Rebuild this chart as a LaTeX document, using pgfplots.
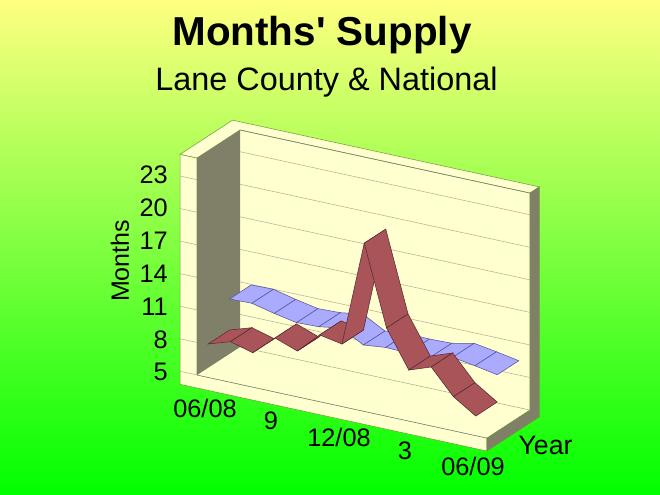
\documentclass[border=0pt]{standalone}
\usepackage{fontspec}
\setmainfont{Liberation Sans}
\newfontfamily\plainsans{Liberation Sans}
\usepackage{pgfplots}
\usepackage{pgfplotstable}
\pgfplotsset{compat=1.18}

\definecolor{bgtop}{RGB}{255,255,128}
\definecolor{bgbot}{RGB}{0,255,0}
\definecolor{wall}{RGB}{255,255,208}
\definecolor{shadewall}{RGB}{128,128,104}
\definecolor{edge}{RGB}{110,160,50}
\definecolor{gridc}{RGB}{178,178,150}
\definecolor{redrib}{RGB}{168,84,88}
\definecolor{redline}{RGB}{90,40,50}
\definecolor{bluerib}{RGB}{170,170,255}
\definecolor{blueline}{RGB}{85,85,150}

% month position, depth, months
\pgfplotstableread{
x d z
0.5 0 8.08
0.5 0.5 8.08
1.5 0 8.74
1.5 0.5 8.74
2.5 0 8.17
2.5 0.5 8.17
3.5 0 9.98
3.5 0.5 9.98
4.5 0 9.22
4.5 0.5 9.22
5.5 0 11.15
5.5 0.5 11.15
6.5 0 10.76
6.5 0.5 10.76
7.5 0 20.5
7.5 0.5 20.5
8.5 0 13.13
8.5 0.5 13.13
9.5 0 9.7
9.5 0.5 9.7
10.5 0 10.43
10.5 0.5 10.43
11.5 0 8.14
11.5 0.5 8.14
12.5 0 6.8
12.5 0.5 6.8
}\lane
\pgfplotstableread{
x d z
0.5 0.5 10.94
0.5 1 10.94
1.5 0.5 10.99
1.5 1 10.99
2.5 0.5 10.5
2.5 1 10.5
3.5 0.5 10.1
3.5 1 10.1
4.5 0.5 10.17
4.5 1 10.17
5.5 0.5 10.5
5.5 1 10.5
6.5 0.5 9.38
6.5 1 9.38
7.5 0.5 9.6
7.5 1 9.6
8.5 0.5 9.53
8.5 1 9.53
9.5 0.5 9.59
9.5 1 9.59
10.5 0.5 10.03
10.5 1 10.03
11.5 0.5 9.7
11.5 1 9.7
12.5 0.5 9.32
12.5 1 9.32
}\national

\newcommand{\fs}[1]{\fontsize{#1}{#1}\selectfont}

\begin{document}
\begin{tikzpicture}
\useasboundingbox (0,0) rectangle (495pt,370.5pt);
\begin{scope}[x=0.75pt,y=0.75pt]
\shade[top color=bgtop,bottom color=bgbot] (0,0) rectangle (660,494);
\end{scope}

\begin{axis}[
    at={(147.75pt,79.5pt)},
    anchor=origin,
    disabledatascaling,
    x={(16.725pt,-3.6375pt)},
    y={(32.25pt,21pt)},
    z={(0pt,8.1375pt)},
    xmin=-0.76, xmax=13,
    ymin=0, ymax=1.22,
    zmin=3.8, zmax=25,
    axis lines=none,
    clip=false,
]
% box
\addplot3[fill=wall,draw=edge,thin] coordinates {(-0.76,0,3.8)(13,0,3.8)(13,0,5)(0,0,5)(0,0,25)(-0.76,0,25)} --cycle;
\addplot3[fill=wall,draw=none] coordinates {(0,0,5)(13,0,5)(13,1,5)(0,1,5)} --cycle;
\addplot3[fill=wall,draw=none] coordinates {(0,1,5)(13,1,5)(13,1,25)(0,1,25)} --cycle;
\addplot3[fill=wall,draw=edge,thin] coordinates {(-0.76,0,25)(0,0,25)(0,1,25)(13,1,25)(13,1.22,25)(-0.76,1.22,25)} --cycle;
\addplot3[fill=shadewall,draw=none] coordinates {(0,0,5)(0,1,5)(0,1,25)(0,0,25)} --cycle;
\addplot3[fill=shadewall,draw=edge,thin] coordinates {(13,0,3.8)(13,1.22,3.8)(13,1.22,25)(13,1,25)(13,1,5)(13,0,5)} --cycle;
% grid
\addplot3[gridc,thin] coordinates {(-0.76,0,5)(0,0,5)};
\addplot3[gridc,thin] coordinates {(-0.76,0,8)(0,0,8)};
\addplot3[gridc,thin] coordinates {(-0.76,0,11)(0,0,11)};
\addplot3[gridc,thin] coordinates {(-0.76,0,14)(0,0,14)};
\addplot3[gridc,thin] coordinates {(-0.76,0,17)(0,0,17)};
\addplot3[gridc,thin] coordinates {(-0.76,0,20)(0,0,20)};
\addplot3[gridc,thin] coordinates {(-0.76,0,23)(0,0,23)};
\addplot3[gridc,thin] coordinates {(0,1,8)(13,1,8)};
\addplot3[gridc,thin] coordinates {(0,1,11)(13,1,11)};
\addplot3[gridc,thin] coordinates {(0,1,14)(13,1,14)};
\addplot3[gridc,thin] coordinates {(0,1,17)(13,1,17)};
\addplot3[gridc,thin] coordinates {(0,1,20)(13,1,20)};
\addplot3[gridc,thin] coordinates {(0,1,23)(13,1,23)};
\addplot3[black!50,thin] coordinates {(0,0,5)(13,0,5)};
\addplot3[gridc,thin] coordinates {(0,1,5)(13,1,5)};
\addplot3[black!50,thin] coordinates {(0,1,25)(13,1,25)};
% ribbons, back one first
\addplot3[surf,shader=faceted,z buffer=none,mesh/cols=2,
    colormap={nat}{color=(bluerib) color=(bluerib)},
    faceted color=blueline,line width=0.4pt]
    table[x=x,y=d,z=z] {\national};
\addplot3[surf,shader=faceted,z buffer=none,mesh/cols=2,
    colormap={lane}{color=(redrib) color=(redrib)},
    faceted color=redline,line width=0.4pt]
    table[x=x,y=d,z=z] {\lane};
\end{axis}

\begin{scope}[x=0.75pt,y=-0.75pt,yshift=370.5pt]
\node[font=\fs{30.3}\plainsans\bfseries,anchor=base] at (322,45.7) {Months' Supply};
\node[font=\fs{24.3},anchor=base] at (326.5,90) {Lane County \& National};
\node[font=\fs{18.75},rotate=90] at (120,261) {Months};
\node[font=\fs{19},anchor=east,inner sep=0pt] at (168,175) {23};
\node[font=\fs{19},anchor=east,inner sep=0pt] at (168,208) {20};
\node[font=\fs{19},anchor=east,inner sep=0pt] at (168,241) {17};
\node[font=\fs{19},anchor=east,inner sep=0pt] at (168,274) {14};
\node[font=\fs{19},anchor=east,inner sep=0pt] at (168,307) {11};
\node[font=\fs{19},anchor=east,inner sep=0pt] at (168,340) {8};
\node[font=\fs{19},anchor=east,inner sep=0pt] at (168,372) {5};
\node[font=\fs{19},inner sep=0pt] at (205,408) {06/08};
\node[font=\fs{19},inner sep=0pt] at (271,421) {9};
\node[font=\fs{19},inner sep=0pt] at (339,437) {12/08};
\node[font=\fs{19},inner sep=0pt] at (405,451) {3};
\node[font=\fs{19},inner sep=0pt] at (473,466) {06/09};
\node[font=\fs{20},inner sep=0pt] at (545.5,445) {Year};
\end{scope}
\end{tikzpicture}
\end{document}
